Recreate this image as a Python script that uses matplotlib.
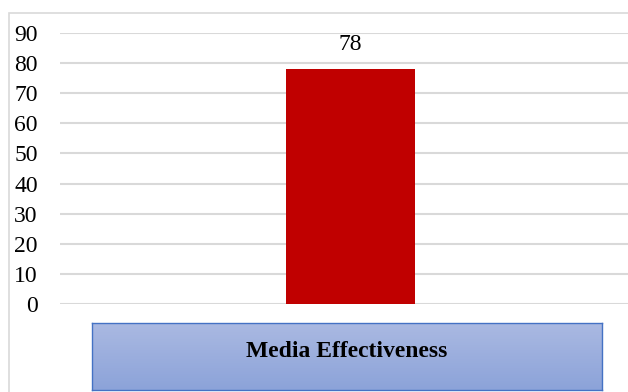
import matplotlib
matplotlib.use("Agg")
import matplotlib.pyplot as plt
import numpy as np
from matplotlib.patches import Rectangle
from matplotlib.colors import LinearSegmentedColormap

categories = ["Media Effectiveness"]
values = [78]
yticks = [0, 10, 20, 30, 40, 50, 60, 70, 80, 90]

W, H = 628, 392
fig = plt.figure(figsize=(W / 100, H / 100), dpi=100)
plt.rcParams['font.family'] = ['Liberation Serif', 'DejaVu Serif']

def fx(px):
    return px / W

def fy(py):
    return 1 - py / H

# outer chart border (right and bottom edges lie outside the picture)
fig.patches.append(Rectangle((fx(9), fy(420)), fx(700) - fx(9), fy(13) - fy(420),
                             transform=fig.transFigure, fill=False,
                             edgecolor="#D9D9D9", linewidth=1.2, zorder=0))

ax = fig.add_axes([fx(60), fy(304), fx(640) - fx(60), fy(33) - fy(304)])
ax.set_xlim(-0.5, 0.5)
ax.set_ylim(0, 90)
ax.set_yticks(yticks)
ax.set_yticklabels([str(t) for t in yticks], fontsize=17)
ax.tick_params(axis="y", length=0, pad=16)
ax.set_xticks([])
for s in ax.spines.values():
    s.set_visible(False)
ax.grid(axis="y", color="#D9D9D9", linewidth=1.5)
ax.set_axisbelow(True)

x = np.arange(len(categories))
bars = ax.bar(x, values, width=129 / 580, color="#C00000", zorder=3)
for xi, v in zip(x, values):
    ax.annotate(str(v), (xi, v), xytext=(0, 10), textcoords="offset points",
                ha="center", va="bottom", fontsize=17)

# category box with gradient
bax = fig.add_axes([fx(92), fy(390), fx(602) - fx(92), fy(323) - fy(390)])
grad = np.linspace(0, 1, 100).reshape(-1, 1)
cmap = LinearSegmentedColormap.from_list("g", ["#AAB9E2", "#8CA3D9"])
bax.imshow(grad, aspect="auto", cmap=cmap, extent=[0, 1, 0, 1], origin="upper")
bax.set_xlim(0, 1)
bax.set_ylim(0, 1)
bax.set_xticks([])
bax.set_yticks([])
for s in bax.spines.values():
    s.set_color("#4472C4")
    s.set_linewidth(1.0)
bax.text(0.5, 0.58, categories[0], ha="center", va="center",
         fontsize=17, fontweight="bold", transform=bax.transAxes)

fig.savefig("out.png", dpi=100)
